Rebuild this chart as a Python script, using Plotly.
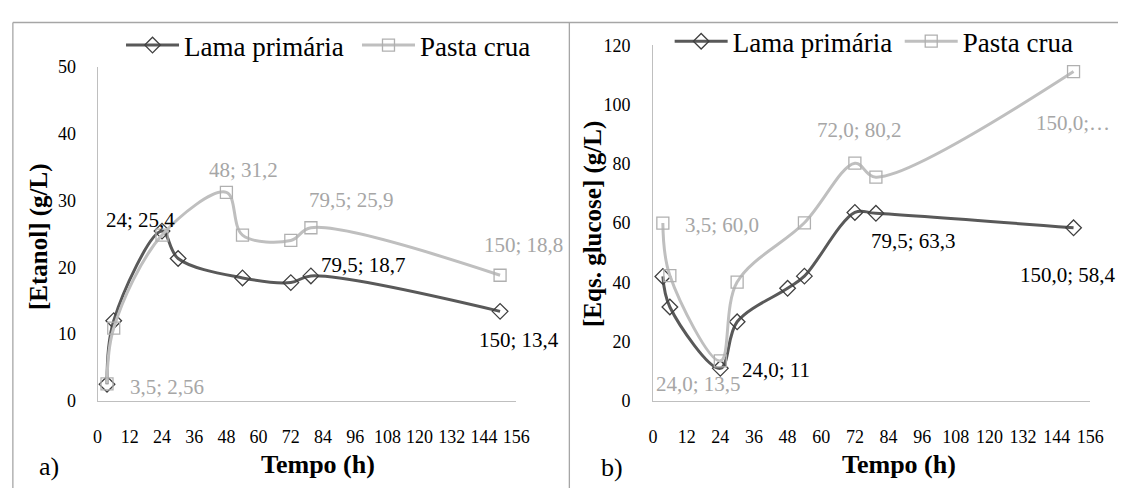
import plotly.graph_objects as go

# ---------------- data ----------------
series_names = ["Lama primária", "Pasta crua"]

left_lama_x = [3.5, 6, 24, 30, 54, 72, 79.5, 150]
left_lama_y = [2.5, 12.0, 25.4, 21.3, 18.4, 17.7, 18.7, 13.4]
left_pasta_x = [3.5, 6, 24, 48, 54, 72, 79.5, 150]
left_pasta_y = [2.56, 10.9, 24.8, 31.2, 24.8, 24.0, 25.9, 18.8]

right_lama_x = [3.5, 6, 24, 30, 48, 54, 72, 79.5, 150]
right_lama_y = [42.0, 31.7, 11.0, 26.7, 38.0, 42.1, 63.6, 63.3, 58.4]
right_pasta_x = [3.5, 6, 24, 30, 54, 72, 79.5, 150]
right_pasta_y = [60.0, 42.3, 13.5, 40.1, 60.1, 80.2, 75.5, 111.1]

# data labels: (index into series, text)
left_lama_labels = [(2, "24; 25,4"), (6, "79,5; 18,7"), (7, "150; 13,4")]
left_pasta_labels = [(0, "3,5; 2,56"), (3, "48; 31,2"), (6, "79,5; 25,9"), (7, "150; 18,8")]
right_lama_labels = [(2, "24,0; 11"), (7, "79,5; 63,3"), (8, "150,0; 58,4")]
right_pasta_labels = [(0, "3,5; 60,0"), (2, "24,0; 13,5"), (5, "72,0; 80,2"), (7, "150,0;…")]

x_ticks = list(range(0, 157, 12))
left_y_ticks = list(range(0, 51, 10))
right_y_ticks = list(range(0, 121, 20))

x_title = "Tempo (h)"
left_y_title = "[Etanol] (g/L)"
right_y_title = "[Eqs. glucose] (g/L)"
panel_tags = ["a)", "b)"]

# ---------------- styles ----------------
W, H = 1132, 498
FONT = "Liberation Serif"
DARK = "#595959"
LIGHT = "#BFBFBF"
LBL_DARK = "#000000"
LBL_LIGHT = "#A6A6A6"
BORDER = "#A6A6A6"
LEG_SYMBOL_W = 53

# label pixel offsets (dx, dy) in screen px (dy positive = down)
left_lama_off = [(-22, -11), (53, -11), (19, 29)]
left_pasta_off = [(60, 3), (17, -22), (41, -28), (23, -30)]
right_lama_off = [(56, 2), (38, 28), (-6, 47)]
right_pasta_off = [(59, 2), (-22, 23), (5, -33), (-1, 51)]


def px_x(p):
    return p / W


def px_y(p):
    return 1 - p / H


fig = go.Figure()


def add_series(x, y, name, color, symbol, xa, ya, legend, mcolor):
    fig.add_trace(go.Scatter(
        x=x, y=y, name=name, mode="lines+markers",
        line=dict(color=color, width=3, shape="spline", smoothing=1),
        marker=dict(symbol=symbol, size=12, color=mcolor,
                    line=dict(color=mcolor, width=1.3)),
        xaxis=xa, yaxis=ya, legend=legend, showlegend=True,
        hoverinfo="x+y",
    ))


add_series(left_lama_x, left_lama_y, series_names[0], DARK, "diamond-open", "x", "y", "legend", "#404040")
add_series(left_pasta_x, left_pasta_y, series_names[1], LIGHT, "square-open", "x", "y", "legend2", "#B0B0B0")
add_series(right_lama_x, right_lama_y, series_names[0], DARK, "diamond-open", "x2", "y2", "legend3", "#404040")
add_series(right_pasta_x, right_pasta_y, series_names[1], LIGHT, "square-open", "x2", "y2", "legend4", "#B0B0B0")

annotations = []


def add_labels(xs, ys, labels, offs, color, xref, yref):
    for (i, txt), (dx, dy) in zip(labels, offs):
        annotations.append(dict(
            x=xs[i], y=ys[i], xref=xref, yref=yref, text=txt, showarrow=False,
            xshift=dx, yshift=-dy, xanchor="center", yanchor="middle",
            font=dict(family=FONT, size=21, color=color)))


add_labels(left_lama_x, left_lama_y, left_lama_labels, left_lama_off, LBL_DARK, "x", "y")
add_labels(left_pasta_x, left_pasta_y, left_pasta_labels, left_pasta_off, LBL_LIGHT, "x", "y")
add_labels(right_lama_x, right_lama_y, right_lama_labels, right_lama_off, LBL_DARK, "x2", "y2")
add_labels(right_pasta_x, right_pasta_y, right_pasta_labels, right_pasta_off, LBL_LIGHT, "x2", "y2")

# axis titles and panel tags
title_font = dict(family=FONT, size=26, color="#000000", weight="bold")
ytitle_font = dict(family=FONT, size=25, color="#000000", weight="bold")
annotations += [
    dict(x=px_x(318), y=px_y(473), xref="paper", yref="paper", text=x_title, showarrow=False,
         font=title_font, xanchor="center", yanchor="middle"),
    dict(x=px_x(909), y=px_y(473), xref="paper", yref="paper", text=x_title, showarrow=False,
         font=title_font, xanchor="center", yanchor="middle"),
    dict(x=px_x(34), y=px_y(236), xref="paper", yref="paper", text=left_y_title, showarrow=False,
         font=ytitle_font, textangle=-90, xanchor="center", yanchor="middle"),
    dict(x=px_x(598), y=px_y(223), xref="paper", yref="paper", text=right_y_title, showarrow=False,
         font=ytitle_font, textangle=-90, xanchor="center", yanchor="middle"),
    dict(x=px_x(45), y=px_y(476), xref="paper", yref="paper", text=panel_tags[0], showarrow=False,
         font=dict(family=FONT, size=26, color="#000000"), xanchor="center", yanchor="middle"),
    dict(x=px_x(617), y=px_y(477), xref="paper", yref="paper", text=panel_tags[1], showarrow=False,
         font=dict(family=FONT, size=26, color="#000000"), xanchor="center", yanchor="middle"),
]

# panel borders
shapes = [
    dict(type="line", xref="paper", yref="paper", x0=px_x(8), x1=1.0, y0=px_y(13), y1=px_y(13),
         line=dict(color=BORDER, width=1.3)),
    dict(type="line", xref="paper", yref="paper", x0=px_x(8), x1=px_x(8), y0=px_y(13), y1=0,
         line=dict(color=BORDER, width=1.3)),
    dict(type="line", xref="paper", yref="paper", x0=px_x(574), x1=px_x(574), y0=px_y(13), y1=0,
         line=dict(color=BORDER, width=1.3)),
]

tick_font = dict(family=FONT, size=18, color="#000000")
axis_common = dict(showgrid=False, zeroline=False, showline=True, linecolor="#BFBFBF", linewidth=1,
                   ticks="", tickfont=tick_font, fixedrange=True)

legend_font = dict(family=FONT, size=27, color="#000000")


def legend_at(text_left_px, center_y_px):
    return dict(orientation="h", x=px_x(text_left_px - LEG_SYMBOL_W - 13), y=px_y(center_y_px),
                xanchor="left", yanchor="middle", font=legend_font, itemwidth=LEG_SYMBOL_W,
                bgcolor="rgba(0,0,0,0)", itemclick=False, itemdoubleclick=False)


fig.update_layout(
    width=W, height=H, margin=dict(l=0, r=0, t=0, b=0),
    paper_bgcolor="white", plot_bgcolor="white",
    xaxis=dict(domain=[px_x(94.2), px_x(519.9)], range=[0, 156], tickvals=x_ticks,
               anchor="y", ticklabelstandoff=19, **axis_common),
    yaxis=dict(domain=[px_y(407.3), px_y(59)], range=[0, 50], tickvals=left_y_ticks,
               anchor="x", ticklabelstandoff=17, **axis_common),
    xaxis2=dict(domain=[px_x(659.1), px_x(1103.9)], range=[0, 156], tickvals=x_ticks,
                anchor="y2", ticklabelstandoff=19, **axis_common),
    yaxis2=dict(domain=[px_y(407.3), px_y(36.7)], range=[0, 120], tickvals=right_y_ticks,
                anchor="x2", ticklabelstandoff=18, **axis_common),
    legend=legend_at(184, 37),
    legend2=legend_at(424, 37),
    legend3=legend_at(742, 33),
    legend4=legend_at(976, 33),
    annotations=annotations, shapes=shapes, showlegend=True,
)

fig.write_html("out.html")
